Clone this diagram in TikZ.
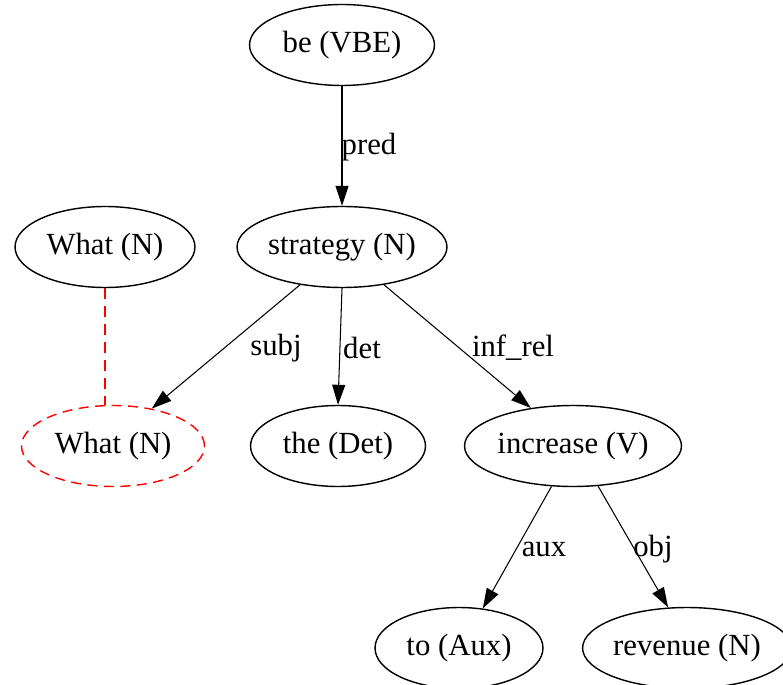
\documentclass[tikz,border=0pt]{standalone}
\usepackage{fontspec}
\setmainfont{Liberation Serif}
\usetikzlibrary{arrows.meta,shapes.geometric}

\begin{document}
\begin{tikzpicture}[x=0.02cm,y=-0.02cm,line width=0.6pt,
    tok/.style={draw,ellipse,line width=0.8pt,inner sep=0pt,minimum height=1.62cm,font=\fontsize{17.5}{20}\selectfont},
    dep/.style={-{Triangle[length=0.4cm,width=0.26cm]}},
    lbl/.style={inner sep=0pt,font=\fontsize{17.5}{20}\selectfont},
    coref/.style={red,dash pattern=on 0.22cm off 0.14cm}]
    \useasboundingbox (0,0) rectangle (783,685);
    \clip (0,0) rectangle (783,685);
    % tokens
    \node [tok,minimum width=3.7cm] (be) at (342,45) {be (VBE)};
    \node [tok,minimum width=4.2cm] (strategy) at (342,247) {strategy (N)};
    \node [tok,minimum width=3.6cm] (what) at (105,247) {What (N)};
    \node [tok,minimum width=3.66cm,draw=red,dash pattern=on 0.2cm off 0.13cm] (whatr) at (113,446) {What (N)};
    \node [tok,minimum width=3.5cm] (the) at (338,446) {the (Det)};
    \node [tok,minimum width=4.34cm] (increase) at (573,446) {increase (V)};
    \node [tok,minimum width=3.36cm] (to) at (459,648) {to (Aux)};
    \node [tok,minimum width=4.0cm] (revenue) at (687,648) {revenue (N)};
    % dependencies
    \draw [dep] (be) -- (strategy);
    \draw [dep] (strategy.222) -- (whatr.44);
    \draw [dep] (strategy.south) -- (the.north);
    \draw [dep] (strategy.318) -- (increase.138);
    \draw [dep] (increase.242) -- (to.59);
    \draw [dep] (increase.302) -- (revenue.115);
    \draw [coref] (what.south) -- (what.south |- whatr.north);
    % labels
    \node [lbl] (lpred) at (369,147) {pred};
    \node [lbl] (lsubj) at (276,348) {subj};
    \node [lbl] (ldet) at (362,348) {det};
    \node [lbl] (linf) at (513,348) {inf\_rel};
    \node [lbl] (laux) at (544,549) {aux};
    \node [lbl] (lobj) at (653,549) {obj};
\end{tikzpicture}
\end{document}
